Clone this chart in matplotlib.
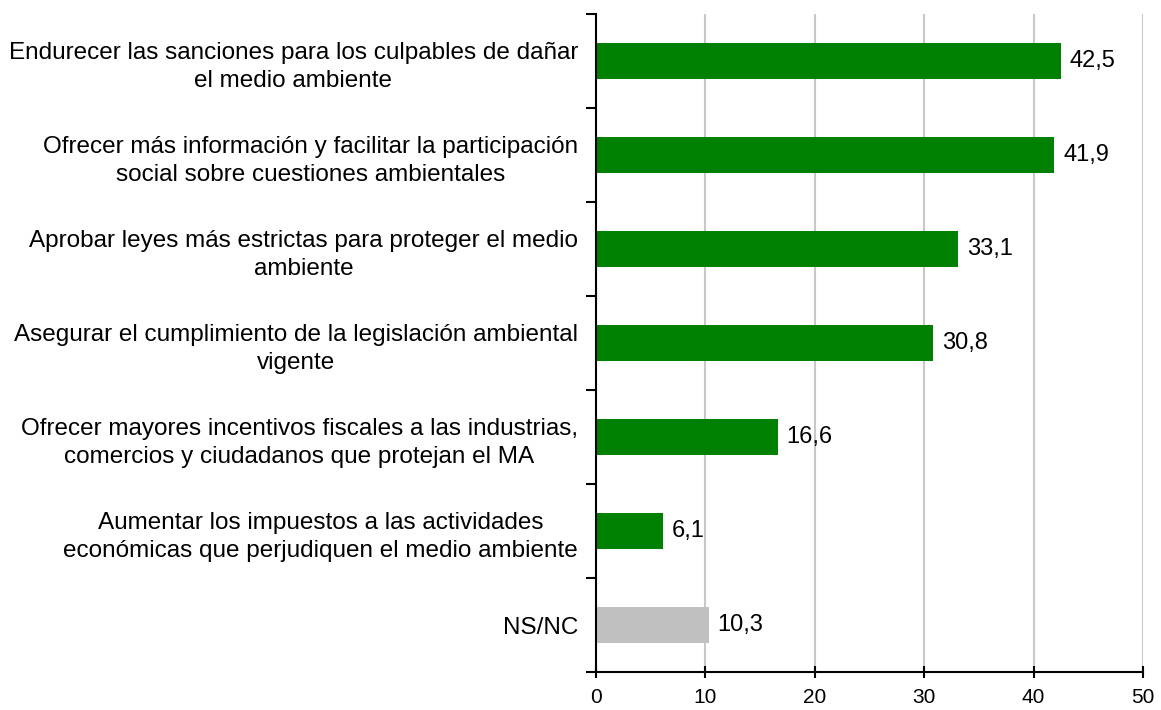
import numpy as np
from matplotlib import pyplot as plt

plt.rcParams['font.family'] = ['Liberation Sans', 'DejaVu Sans']

# Categories, top to bottom
categories = [
    'Endurecer las sanciones para los culpables de dañar\nel medio ambiente',
    'Ofrecer más información y facilitar la participación\nsocial sobre cuestiones ambientales',
    'Aprobar leyes más estrictas para proteger el medio\nambiente',
    'Asegurar el cumplimiento de la legislación ambiental\nvigente',
    'Ofrecer mayores incentivos fiscales a las industrias,\ncomercios y ciudadanos que protejan el MA',
    'Aumentar los impuestos a las actividades\neconómicas que perjudiquen el medio ambiente',
    'NS/NC',
]
values = [42.5, 41.9, 33.1, 30.8, 16.6, 6.1, 10.3]
x_ticks = [0, 10, 20, 30, 40, 50]

green = '#008000'
grey = '#C0C0C0'
colors = [green] * 6 + [grey]

fig = plt.figure(figsize=(11.61, 7.10), dpi=100)
ax = fig.add_axes([596 / 1161, 1 - 672 / 710, (1143 - 596) / 1161, (672 - 14) / 710])

y = np.arange(len(categories))
ax.barh(y, values, height=0.38, color=colors, zorder=3)

for yi, v in zip(y, values):
    ax.text(v + 0.8, yi, f'{v:.1f}'.replace('.', ','), va='center', ha='left',
            fontsize=17, color='black')

ax.set_ylim(len(categories) - 0.5, -0.5)
ax.set_xlim(0, 50)

# category labels centred between boundary ticks
ax.set_yticks(y)
ax.set_yticklabels(categories, fontsize=17.5)
ax.tick_params(axis='y', length=0, pad=13)
for lbl in ax.get_yticklabels():
    lbl.set_multialignment('center')
    lbl.set_linespacing(1.4)
ax.set_yticks(np.arange(-0.5, len(categories), 1), minor=True)
ax.tick_params(axis='y', which='minor', length=7, width=1.5, direction='out')

ax.set_xticks(x_ticks)
ax.set_xticklabels([str(t) for t in x_ticks], fontsize=15)
ax.tick_params(axis='x', length=9, width=1.5, direction='inout', pad=7)

ax.grid(axis='x', color='#C8C8C8', linewidth=1.5, zorder=0)
for s in ['top', 'right']:
    ax.spines[s].set_visible(False)
for s in ['left', 'bottom']:
    ax.spines[s].set_linewidth(1.5)
    ax.spines[s].set_zorder(4)

fig.savefig('out.png', dpi=100)
